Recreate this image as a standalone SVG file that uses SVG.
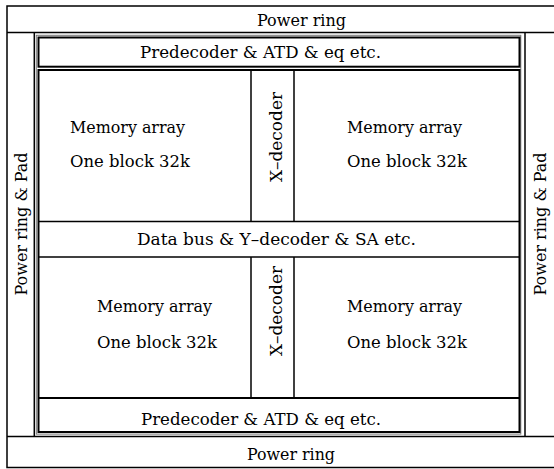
<svg xmlns="http://www.w3.org/2000/svg" width="554" height="469" viewBox="0 0 554 469">
<style>
text{font-family:'DejaVu Serif','Liberation Serif',serif;font-size:17px;fill:#000}
.ln{stroke:#000;stroke-width:1.5;fill:none}
.blk{stroke:#000;stroke-width:2;fill:none}
.gry{stroke:#777;stroke-width:1;fill:none}
</style>
<rect x="0" y="0" width="554" height="469" fill="#fff"/>
<g id="frame">
<rect x="7" y="6" width="560" height="461.5" class="ln"/>
<line x1="7" y1="32.5" x2="554" y2="32.5" class="ln"/>
<line x1="7" y1="436.5" x2="554" y2="436.5" class="ln"/>
<line x1="34.3" y1="32.5" x2="34.3" y2="436.5" class="ln"/>
<line x1="525" y1="32.5" x2="525" y2="436.5" class="ln"/>
<rect x="36.3" y="35.3" width="484.5" height="398.8" class="gry"/>
</g>
<g id="power-ring-top"><text x="257" y="26" textLength="89" lengthAdjust="spacingAndGlyphs">Power ring</text></g>
<g id="power-ring-bottom"><text x="247" y="460" textLength="88" lengthAdjust="spacingAndGlyphs">Power ring</text></g>
<g id="power-ring-pad-left"><text transform="translate(27,224) rotate(-90)" text-anchor="middle" textLength="143" lengthAdjust="spacingAndGlyphs">Power ring &amp; Pad</text></g>
<g id="power-ring-pad-right"><text transform="translate(546,224) rotate(-90)" text-anchor="middle" textLength="143" lengthAdjust="spacingAndGlyphs">Power ring &amp; Pad</text></g>
<g id="predecoder-top">
<rect x="38.5" y="37.5" width="481" height="29.2" class="blk"/>
<text x="140" y="58" textLength="241" lengthAdjust="spacingAndGlyphs">Predecoder &amp; ATD &amp; eq etc.</text>
</g>
<g id="core">
<rect x="38.5" y="70" width="481" height="362" class="blk"/>
<line x1="39" y1="221.5" x2="519" y2="221.5" class="ln"/>
<line x1="39" y1="257" x2="519" y2="257" class="ln"/>
<line x1="39" y1="398" x2="519" y2="398" class="blk"/>
</g>
<g id="xdec-top">
<line x1="251" y1="70" x2="251" y2="221.5" class="ln"/>
<line x1="294" y1="70" x2="294" y2="221.5" class="ln"/>
<text transform="translate(282,137) rotate(-90)" text-anchor="middle" textLength="90" lengthAdjust="spacingAndGlyphs">X–decoder</text>
</g>
<g id="xdec-bottom">
<line x1="251" y1="257" x2="251" y2="398" class="ln"/>
<line x1="294" y1="257" x2="294" y2="398" class="ln"/>
<text transform="translate(282,311) rotate(-90)" text-anchor="middle" textLength="90" lengthAdjust="spacingAndGlyphs">X–decoder</text>
</g>
<g id="mem-tl"><text x="70" y="133" textLength="115" lengthAdjust="spacingAndGlyphs">Memory array</text><text x="70" y="167" textLength="120" lengthAdjust="spacingAndGlyphs">One block 32k</text></g>
<g id="mem-tr"><text x="347" y="133" textLength="115" lengthAdjust="spacingAndGlyphs">Memory array</text><text x="347" y="167" textLength="120" lengthAdjust="spacingAndGlyphs">One block 32k</text></g>
<g id="databus"><text x="137" y="245" textLength="279" lengthAdjust="spacingAndGlyphs">Data bus &amp; Y–decoder &amp; SA etc.</text></g>
<g id="mem-bl"><text x="97" y="312" textLength="115" lengthAdjust="spacingAndGlyphs">Memory array</text><text x="97" y="348" textLength="120" lengthAdjust="spacingAndGlyphs">One block 32k</text></g>
<g id="mem-br"><text x="347" y="312" textLength="115" lengthAdjust="spacingAndGlyphs">Memory array</text><text x="347" y="348" textLength="120" lengthAdjust="spacingAndGlyphs">One block 32k</text></g>
<g id="predecoder-bottom"><text x="141" y="425" textLength="240" lengthAdjust="spacingAndGlyphs">Predecoder &amp; ATD &amp; eq etc.</text></g>
<g id="connectors"/>
</svg>
